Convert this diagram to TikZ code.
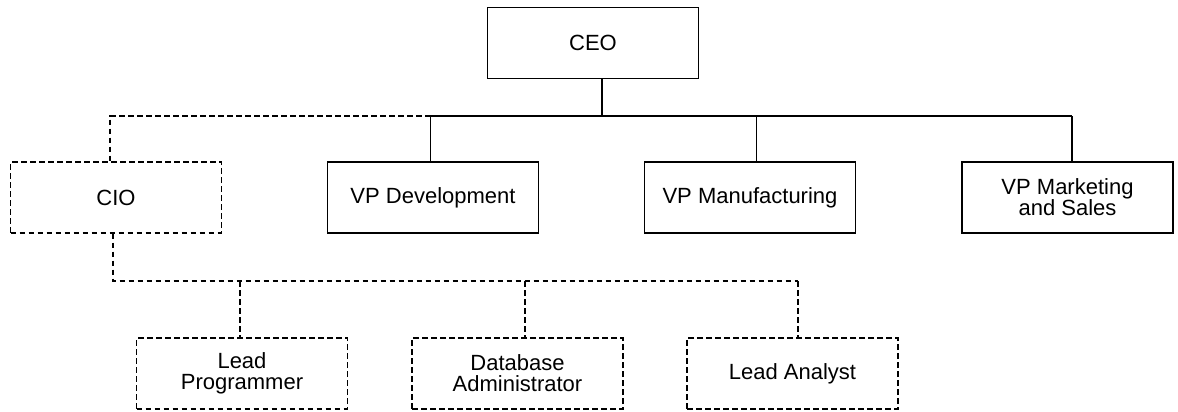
\documentclass[tikz,border=0pt]{standalone}
\usepackage{fontspec}
\setmainfont{Liberation Sans}
\begin{document}
\begin{tikzpicture}[x=0.5pt,y=-0.5pt,
  box/.style={draw, line width=0.7pt, minimum width=105.5pt, minimum height=35.5pt,
    inner sep=0pt, align=center, font=\fontsize{11pt}{10.6pt}\selectfont},
  dbox/.style={box, dash pattern=on 2.8pt off 1.7pt},
  solidline/.style={line width=0.7pt},
  dline/.style={line width=0.7pt, dash pattern=on 2.8pt off 1.7pt}]
\useasboundingbox (0,0) rectangle (1178,412);
% nodes
\node[box] (CEO) at (593,43) {CEO};
\node[dbox] (CIO) at (116,197.5) {CIO};
\node[box] (VPD) at (433,197.5) {VP Development};
\node[box] (VPM) at (750,197.5) {VP Manufacturing};
\node[box] (VPS) at (1067.5,197.5) {VP Marketing\\and Sales};
\node[dbox] (LP) at (242,373.5) {Lead\\Programmer};
\node[dbox] (DBA) at (517.5,373.5) {Database\\Administrator};
\node[dbox] (LA) at (792.5,373.5) {Lead Analyst};
% bar coordinates
\coordinate (hub) at (602,116);
\coordinate (bD) at (430.5,116);
\coordinate (bM) at (756.5,116);
\coordinate (bS) at (1072,116);
\coordinate (bC) at (110,116);
\coordinate (sC) at (113,281);
\coordinate (sP) at (240,281);
\coordinate (sD) at (525,281);
\coordinate (sA) at (798,281);
% solid connectors
\draw[solidline] (CEO.south -| hub) -- (hub);
\draw[solidline] (bD) -- (bS);
\draw[solidline] (bD) -- (bD |- VPD.north);
\draw[solidline] (bM) -- (bM |- VPM.north);
\draw[solidline] (bS) -- (bS |- VPS.north);
% dashed connectors
\draw[dline] (bD) -- (bC) -- (bC |- CIO.north);
\draw[dline] (CIO.south -| sC) -- (sC) -- (sA);
\draw[dline] (sP) -- (sP |- LP.north);
\draw[dline] (sD) -- (sD |- DBA.north);
\draw[dline] (sA) -- (sA |- LA.north);
\end{tikzpicture}
\end{document}
